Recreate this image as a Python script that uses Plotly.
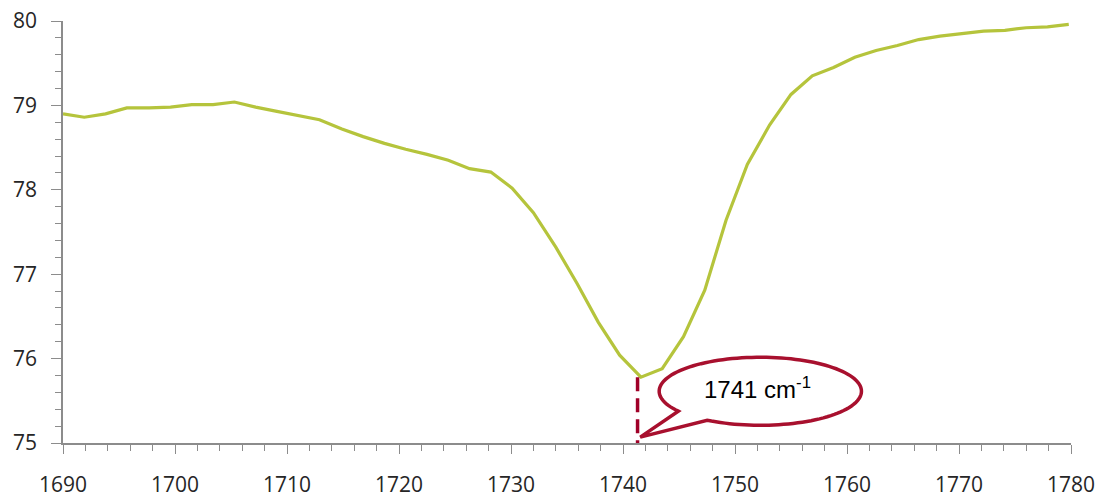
import math
import plotly.graph_objects as go

# ---- data ----
wavenumber = [1690.0, 1691.9, 1693.8, 1695.7, 1697.7, 1699.6, 1701.5, 1703.4, 1705.3, 1707.2,
              1709.1, 1711.0, 1712.9, 1714.9, 1716.8, 1718.7, 1720.6, 1722.5, 1724.4, 1726.3,
              1728.2, 1730.1, 1732.0, 1734.0, 1735.9, 1737.8, 1739.7, 1741.6, 1743.5, 1745.4,
              1747.3, 1749.2, 1751.1, 1753.1, 1755.0, 1756.9, 1758.8, 1760.7, 1762.6, 1764.5,
              1766.4, 1768.3, 1770.2, 1772.2, 1774.1, 1776.0, 1777.9, 1779.8]
transmittance = [78.90, 78.86, 78.90, 78.97, 78.97, 78.98, 79.01, 79.01, 79.04, 78.98,
                 78.93, 78.88, 78.83, 78.72, 78.63, 78.55, 78.48, 78.42, 78.35, 78.25,
                 78.21, 78.02, 77.73, 77.32, 76.89, 76.43, 76.04, 75.78, 75.88, 76.26,
                 76.81, 77.64, 78.30, 78.77, 79.13, 79.35, 79.45, 79.57, 79.65, 79.71,
                 79.78, 79.82, 79.85, 79.88, 79.89, 79.92, 79.93, 79.96]
x_ticks = [1690, 1700, 1710, 1720, 1730, 1740, 1750, 1760, 1770, 1780]
y_ticks = [75, 76, 77, 78, 79, 80]

peak_x = 1741.3
peak_y = 75.78
peak_label = "1741 cm<sup>-1</sup>"

# callout geometry (data units)
bubble_cx, bubble_cy = 1752.26, 75.613
bubble_rx, bubble_ry = 9.03, 0.403
tip_x, tip_y = 1741.54, 75.07
label_x, label_y = 1752.0, 75.65

LINE = "#B5C43C"
RED = "#A8102E"
AXIS = "#8C8C8C"
TXT = "#262626"

fig = go.Figure()
fig.add_trace(go.Scatter(x=wavenumber, y=transmittance, mode="lines",
                         line=dict(color=LINE, width=3.2), showlegend=False,
                         hoverinfo="skip"))

# dashed marker line from the peak down to the axis
fig.add_shape(type="line", xref="x", yref="y", x0=peak_x, x1=peak_x,
              y0=peak_y, y1=75.0, line=dict(color="#A00028", width=3.5, dash="14px,7px"),
              layer="above")

# speech-bubble outline: ellipse with a tail pointing to the axis
t1, t2 = math.radians(144.2), math.radians(121.7 + 360)
n = 120
pts = []
for i in range(n + 1):
    t = t1 + (t2 - t1) * i / n
    pts.append((bubble_cx + bubble_rx * math.cos(t), bubble_cy - bubble_ry * math.sin(t)))
pts.append((tip_x, tip_y))
path = "M " + " L ".join(f"{px:.4f},{py:.4f}" for px, py in pts) + " Z"
fig.add_shape(type="path", xref="x", yref="y", path=path,
              line=dict(color=RED, width=3.5), fillcolor="white", layer="above")

fig.add_annotation(x=label_x, y=label_y, xref="x", yref="y", text=peak_label,
                   showarrow=False, font=dict(family="Liberation Sans, Arial", size=24, color="black"))

axis_common = dict(showgrid=False, zeroline=False, showline=True, linecolor=AXIS, linewidth=1.5,
                   ticks="outside", tickcolor=AXIS, tickwidth=1.3, automargin=False,
                   tickfont=dict(family="Open Sans", size=21, color=TXT))

fig.update_xaxes(range=[1690, 1780], tickvals=x_ticks, ticklen=9,
                 ticklabelstandoff=13,
                 minor=dict(dtick=2, tick0=1690, ticks="outside", ticklen=6,
                            tickcolor=AXIS, tickwidth=1.3, showgrid=False),
                 **axis_common)
fig.update_yaxes(range=[75, 80], tickvals=y_ticks, ticklen=10, ticklabelstandoff=10,
                 minor=dict(dtick=0.2, tick0=75, ticks="outside", ticklen=6,
                            tickcolor=AXIS, tickwidth=1.3, showgrid=False),
                 **axis_common)

fig.update_layout(width=1108, height=498, plot_bgcolor="white", paper_bgcolor="white",
                  margin=dict(l=63, r=37, t=21, b=55), showlegend=False)

fig.write_html("out.html")
